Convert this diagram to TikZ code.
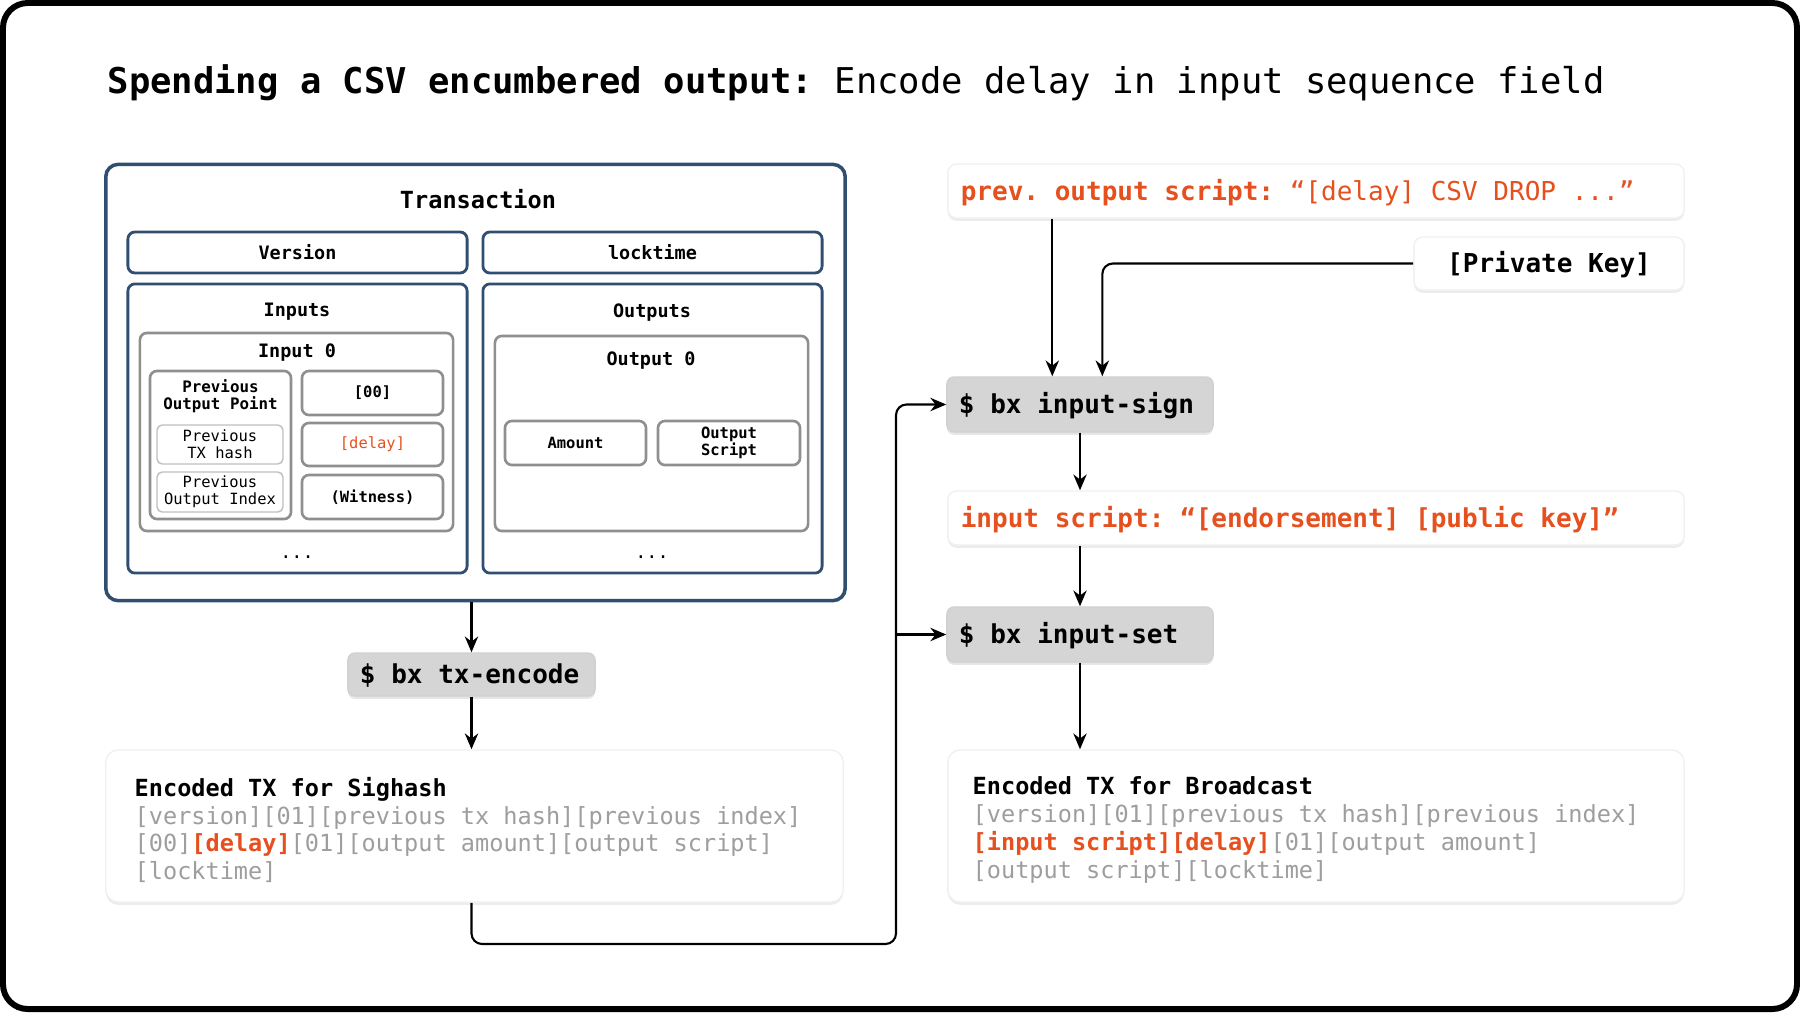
\documentclass[tikz,border=0pt]{standalone}
\usepackage{fontspec}
\setmainfont{DejaVu Sans Mono}
\usetikzlibrary{arrows.meta,shadows}
\frenchspacing

\definecolor{txblue}{HTML}{2F4E72}
\definecolor{csvorange}{HTML}{E5501E}
\definecolor{fieldgray}{HTML}{8F8F8F}
\definecolor{codegray}{HTML}{9E9E9E}
\definecolor{cmdfill}{HTML}{D5D5D5}

\tikzset{
  txbox/.style={draw=txblue, line width=1pt, rounded corners=3.5pt, inner sep=0pt},
  fieldbox/.style={draw=txblue, line width=0.8pt, rounded corners=2pt, inner sep=0pt,
    font=\fontsize{5.25}{6.3}\selectfont\bfseries},
  groupbox/.style={draw=fieldgray, line width=0.75pt, rounded corners=2pt, inner sep=0pt},
  cellbox/.style={groupbox, align=center, font=\fontsize{4.4}{4.9}\selectfont\bfseries},
  subbox/.style={draw=black!25, line width=0.4pt, rounded corners=1.5pt, inner sep=0pt,
    align=center, font=\fontsize{4.4}{4.9}\selectfont},
  boxlabel/.style={anchor=base, inner sep=0pt, font=\fontsize{5.25}{6.3}\selectfont\bfseries},
  oneline/.style={text height=5.2pt, text depth=0pt,
    execute at begin node={\spaceskip=0pt\xspaceskip=0pt}},
  cmdbox/.style={fill=cmdfill, draw=black!18, line width=0.4pt, rounded corners=2pt,
    drop shadow={opacity=0.2, shadow xshift=0pt, shadow yshift=-0.8pt},
    inner xsep=0.12cm, inner ysep=0pt, align=left, oneline,
    font=\fontsize{7.4}{8}\selectfont\bfseries},
  notebox/.style={fill=white, draw=black!6, line width=0.4pt, rounded corners=2.5pt,
    drop shadow={opacity=0.15, shadow xshift=0pt, shadow yshift=-0.8pt},
    inner xsep=0.13cm, inner ysep=0pt, align=left, oneline,
    font=\fontsize{7.4}{8}\selectfont},
  encbox/.style={fill=white, draw=black!6, line width=0.4pt, rounded corners=3.5pt,
    drop shadow={opacity=0.15, shadow xshift=0pt, shadow yshift=-0.8pt}, inner sep=0pt},
  enctext/.style={anchor=west, inner sep=0pt, align=left, font=\fontsize{6.7}{7.9}\selectfont},
  flow/.style={line width=0.6pt, -{Stealth[length=4.5pt, width=3.8pt]}},
}

\begin{document}
\begin{tikzpicture}[x=0.01cm, y=-0.01cm]
  \useasboundingbox (0,0) rectangle (1800,1012);
  \draw[line width=1.7pt, rounded corners=7pt] (3,3) rectangle (1797,1009);

  \node[anchor=base west, inner sep=0pt, font=\fontsize{10.1}{12}\selectfont] (title) at (107,93)
    {\textbf{Spending a CSV encumbered output:} Encode delay in input sequence field};

  % transaction
  \node[txbox, minimum width=7.39cm, minimum height=4.36cm] (tx) at (475.5,382.5) {};
  \node[anchor=base, inner sep=0pt, font=\fontsize{6.7}{8}\selectfont\bfseries] (txlabel) at (478,208) {Transaction};
  \node[fieldbox, minimum width=3.39cm, minimum height=0.41cm] (version) at (297.5,252.5) {Version};
  \node[fieldbox, minimum width=3.39cm, minimum height=0.41cm] (locktime) at (652.5,252.5) {locktime};
  \node[txbox, line width=0.8pt, rounded corners=2pt, minimum width=3.39cm, minimum height=2.89cm] (inputs) at (297.5,428.5) {};
  \node[txbox, line width=0.8pt, rounded corners=2pt, minimum width=3.39cm, minimum height=2.89cm] (outputs) at (652.5,428.5) {};
  \node[boxlabel] (inlabel) at (297,316) {Inputs};
  \node[boxlabel] (outlabel) at (652,317) {Outputs};

  % input 0
  \node[groupbox, minimum width=3.13cm, minimum height=1.98cm] (in0) at (296.5,432) {};
  \node[boxlabel] (in0label) at (297,357) {Input 0};
  \node[groupbox, minimum width=1.41cm, minimum height=1.48cm] (prevpoint) at (220.5,445) {};
  \node[inner sep=0pt, align=center, font=\fontsize{4.5}{4.8}\selectfont\bfseries] (pointlabel) at (220.5,396) {Previous\\Output Point};
  \node[subbox, minimum width=1.26cm, minimum height=0.39cm] (prevhash) at (220,444.5) {Previous\\TX hash};
  \node[subbox, minimum width=1.26cm, minimum height=0.40cm] (previndex) at (220,492) {Previous\\Output Index};
  \node[cellbox, minimum width=1.41cm, minimum height=0.44cm] (script0) at (372.5,393) {[00]};
  \node[cellbox, minimum width=1.41cm, minimum height=0.43cm, font=\fontsize{4.4}{4.9}\selectfont, text=csvorange] (sequence) at (372.5,444.5) {[delay]};
  \node[cellbox, minimum width=1.41cm, minimum height=0.44cm] (witness) at (372.5,497) {(Witness)};
  \node[inner sep=0pt, font=\fontsize{5.25}{6.3}\selectfont] (indots) at (297,557) {...};

  % output 0
  \node[groupbox, minimum width=3.13cm, minimum height=1.95cm] (out0) at (651.5,433.5) {};
  \node[boxlabel] (out0label) at (651,365) {Output 0};
  \node[cellbox, minimum width=1.41cm, minimum height=0.44cm] (amount) at (575.5,443) {Amount};
  \node[cellbox, minimum width=1.42cm, minimum height=0.44cm] (outscript) at (729,443) {Output\\Script};
  \node[inner sep=0pt, font=\fontsize{5.25}{6.3}\selectfont] (outdots) at (652,557) {...};

  % left column
  \node[cmdbox, minimum width=2.47cm, minimum height=0.43cm, text width=2.23cm] (txencode) at (471.5,674.5) {\$ bx tx-encode};
  \node[encbox, minimum width=7.37cm, minimum height=1.52cm] (sighash) at (474.5,826) {};
  \node[enctext] (sighashtext) at (134,830)
    {\textbf{Encoded TX for Sighash}\\
     \textcolor{codegray}{[version][01][previous tx hash][previous index]}\\
     \textcolor{codegray}{[00]}\textcolor{csvorange}{\bfseries[delay]}\textcolor{codegray}{[01][output amount][output script]}\\
     \textcolor{codegray}{[locktime]}};

  % right column
  \node[notebox, minimum width=7.36cm, minimum height=0.54cm, text width=7.10cm, text=csvorange] (prevout) at (1316,191)
    {\textbf{prev. output script:} “[delay] CSV DROP ...”};
  \node[notebox, minimum width=2.70cm, minimum height=0.53cm, align=center, font=\fontsize{7.4}{8}\selectfont\bfseries] (privkey) at (1549,263.5) {[Private Key]};
  \node[cmdbox, minimum width=2.66cm, minimum height=0.55cm, text width=2.42cm] (inputsign) at (1080,404.5) {\$ bx input-sign};
  \node[notebox, minimum width=7.36cm, minimum height=0.54cm, text width=7.10cm, text=csvorange, font=\fontsize{7.4}{8}\selectfont\bfseries] (inputscript) at (1316,518)
    {input script: “[endorsement] [public key]”};
  \node[cmdbox, minimum width=2.66cm, minimum height=0.55cm, text width=2.42cm] (inputset) at (1080,634.5) {\$ bx input-set};
  \node[encbox, minimum width=7.36cm, minimum height=1.52cm] (broadcast) at (1316,826) {};
  \node[enctext] (broadcasttext) at (972,830)
    {\textbf{Encoded TX for Broadcast}\\
     \textcolor{codegray}{[version][01][previous tx hash][previous index]}\\
     \textcolor{csvorange}{\bfseries[input script][delay]}\textcolor{codegray}{[01][output amount]}\\
     \textcolor{codegray}{[output script][locktime]}};

  \coordinate (loop) at (896,944);
  \coordinate (signin1) at ([xshift=1.06cm]inputsign.north west);
  \coordinate (signin2) at ([xshift=1.56cm]inputsign.north west);

  \draw[flow] (tx.south -| txencode.north) -- (txencode.north);
  \draw[flow] (txencode.south) -- (txencode.south |- sighash.north);
  \draw[flow, rounded corners=3pt] (sighash.south -| txencode.south) |- (loop) |- (inputsign.west);
  \draw[flow] (loop |- inputset.west) -- (inputset.west);
  \draw[flow] (prevout.south -| signin1) -- (signin1);
  \draw[flow, rounded corners=3pt] (privkey.west) -| (signin2);
  \draw[flow] (inputsign.south) -- (inputsign.south |- inputscript.north);
  \draw[flow] (inputset.north |- inputscript.south) -- (inputset.north);
  \draw[flow] (inputset.south) -- (inputset.south |- broadcast.north);
\end{tikzpicture}
\end{document}
